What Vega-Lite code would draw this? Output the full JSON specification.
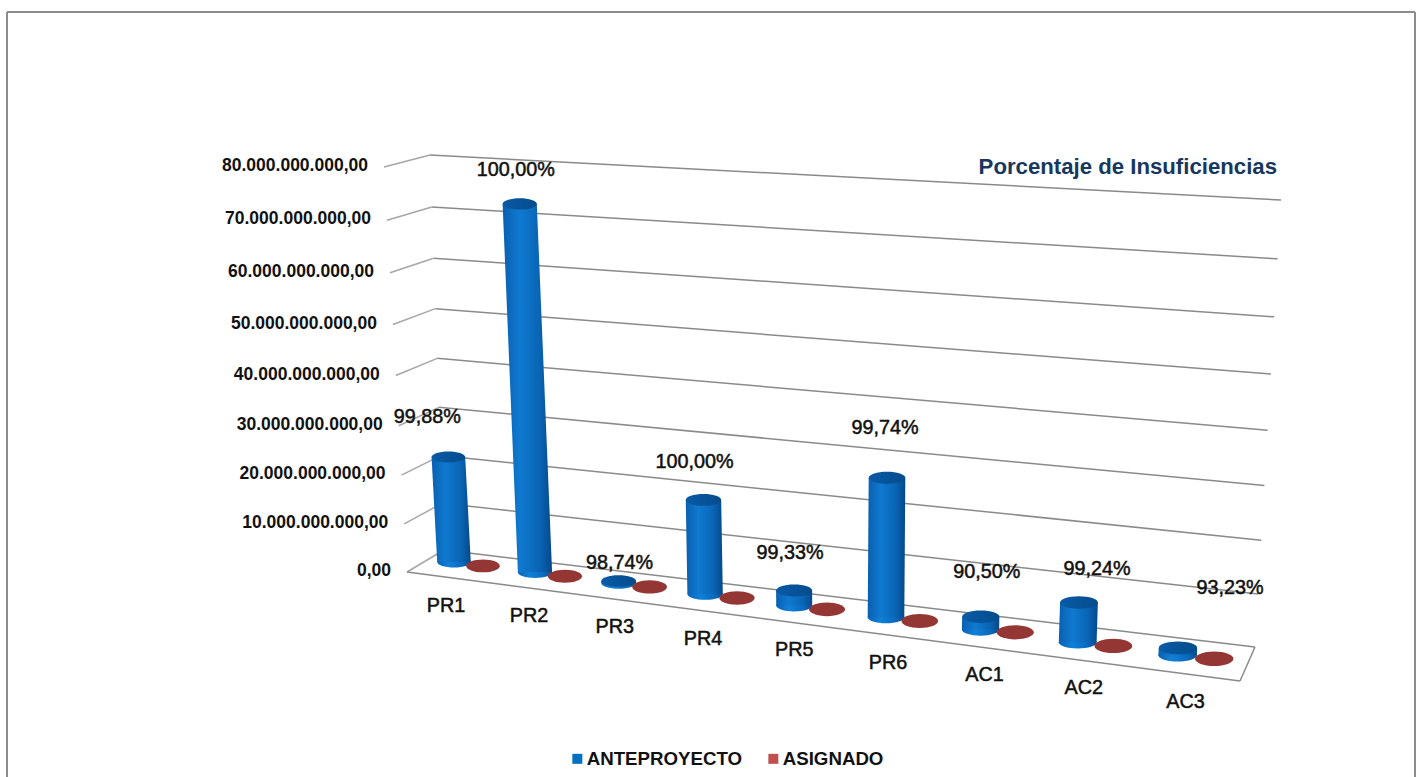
{
  "$schema": "https://vega.github.io/schema/vega-lite/v6.json",
  "width": 1422,
  "height": 777,
  "padding": 0,
  "autosize": "none",
  "background": "white",
  "view": {"stroke": null},
  "title": {
    "text": "Porcentaje de Insuficiencias",
    "orient": "top",
    "anchor": "end",
    "offset": -178,
    "dx": -145,
    "font": "Liberation Sans",
    "fontSize": 22.2,
    "fontWeight": "bold",
    "color": "#17375e"
  },
  "datasets": {
    "escala": [
      {"valor": 0, "etiqueta": "0,00"},
      {"valor": 10000000000, "etiqueta": "10.000.000.000,00"},
      {"valor": 20000000000, "etiqueta": "20.000.000.000,00"},
      {"valor": 30000000000, "etiqueta": "30.000.000.000,00"},
      {"valor": 40000000000, "etiqueta": "40.000.000.000,00"},
      {"valor": 50000000000, "etiqueta": "50.000.000.000,00"},
      {"valor": 60000000000, "etiqueta": "60.000.000.000,00"},
      {"valor": 70000000000, "etiqueta": "70.000.000.000,00"},
      {"valor": 80000000000, "etiqueta": "80.000.000.000,00"}
    ],
    "presupuesto": [
      {"categoria": "PR1", "serie": "ANTEPROYECTO", "valor": 21900000000, "porcentaje": "99,88%"},
      {"categoria": "PR2", "serie": "ANTEPROYECTO", "valor": 73000000000, "porcentaje": "100,00%"},
      {"categoria": "PR3", "serie": "ANTEPROYECTO", "valor": 420000000, "porcentaje": "98,74%"},
      {"categoria": "PR4", "serie": "ANTEPROYECTO", "valor": 18900000000, "porcentaje": "100,00%"},
      {"categoria": "PR5", "serie": "ANTEPROYECTO", "valor": 3000000000, "porcentaje": "99,33%"},
      {"categoria": "PR6", "serie": "ANTEPROYECTO", "valor": 27100000000, "porcentaje": "99,74%"},
      {"categoria": "AC1", "serie": "ANTEPROYECTO", "valor": 2500000000, "porcentaje": "90,50%"},
      {"categoria": "AC2", "serie": "ANTEPROYECTO", "valor": 7600000000, "porcentaje": "99,24%"},
      {"categoria": "AC3", "serie": "ANTEPROYECTO", "valor": 1400000000, "porcentaje": "93,23%"},
      {"categoria": "PR1", "serie": "ASIGNADO", "valor": 26280000},
      {"categoria": "PR2", "serie": "ASIGNADO", "valor": 0},
      {"categoria": "PR3", "serie": "ASIGNADO", "valor": 5292000},
      {"categoria": "PR4", "serie": "ASIGNADO", "valor": 0},
      {"categoria": "PR5", "serie": "ASIGNADO", "valor": 20100000},
      {"categoria": "PR6", "serie": "ASIGNADO", "valor": 70460000},
      {"categoria": "AC1", "serie": "ASIGNADO", "valor": 237500000},
      {"categoria": "AC2", "serie": "ASIGNADO", "valor": 57760000},
      {"categoria": "AC3", "serie": "ASIGNADO", "valor": 94780000}
    ]
  },
  "layer": [
    {
      "data": {"values": [{"borde": "marco"}]},
      "mark": {"type": "rule", "stroke": "#8c8c8c", "strokeWidth": 2},
      "encoding": {
        "x": {"datum": 7, "type": "quantitative", "scale": {"domain": [0, 1422], "range": [0, 1422]}, "axis": null},
        "y": {"datum": 12, "type": "quantitative", "scale": {"domain": [0, 777], "range": [0, 777]}, "axis": null},
        "y2": {"datum": 777}
      }
    },
    {
      "data": {"values": [{"borde": "marco"}]},
      "mark": {"type": "rule", "stroke": "#8c8c8c", "strokeWidth": 2},
      "encoding": {
        "x": {"datum": 1415, "type": "quantitative", "scale": {"domain": [0, 1422], "range": [0, 1422]}, "axis": null},
        "y": {"datum": 12, "type": "quantitative", "scale": {"domain": [0, 777], "range": [0, 777]}, "axis": null},
        "y2": {"datum": 777}
      }
    },
    {
      "data": {"values": [{"borde": "marco"}]},
      "mark": {"type": "rule", "stroke": "#8c8c8c", "strokeWidth": 2},
      "encoding": {
        "x": {"datum": 7, "type": "quantitative", "scale": {"domain": [0, 1422], "range": [0, 1422]}, "axis": null},
        "x2": {"datum": 1415},
        "y": {"datum": 12, "type": "quantitative", "scale": {"domain": [0, 777], "range": [0, 777]}, "axis": null}
      }
    },
    {
      "data": {"name": "escala"},
      "transform": [
        {"calculate": "datum.valor/1e10", "as": "n"},
        {"calculate": "datum.n/(1-0.0072*datum.n)/8.489", "as": "w"},
        {"calculate": "444-14*datum.w", "as": "fondoIzqX"},
        {"calculate": "550-395*datum.w", "as": "fondoIzqY"},
        {"calculate": "1255+26*datum.w", "as": "fondoDerX"},
        {"calculate": "647-447*datum.w", "as": "fondoDerY"},
        {"calculate": "407-23*datum.w", "as": "frenteIzqX"},
        {"calculate": "572-405*datum.w", "as": "frenteIzqY"},
        {"calculate": "datum.frenteIzqX-16", "as": "textoX"},
        {"calculate": "datum.frenteIzqY-1", "as": "textoY"}
      ],
      "layer": [
        {
          "mark": {"type": "rule", "stroke": "#8a8a8a", "strokeWidth": 1.5},
          "encoding": {
            "x": {"field": "fondoIzqX", "type": "quantitative", "scale": {"domain": [0, 1422], "range": [0, 1422]}, "axis": null},
            "x2": {"field": "fondoDerX"},
            "y": {"field": "fondoIzqY", "type": "quantitative", "scale": {"domain": [0, 777], "range": [0, 777]}, "axis": null},
            "y2": {"field": "fondoDerY"}
          }
        },
        {
          "mark": {"type": "rule", "stroke": "#a6a6a6", "strokeWidth": 1.5},
          "encoding": {
            "x": {"field": "frenteIzqX", "type": "quantitative", "scale": {"domain": [0, 1422], "range": [0, 1422]}, "axis": null},
            "x2": {"field": "fondoIzqX"},
            "y": {"field": "frenteIzqY", "type": "quantitative", "scale": {"domain": [0, 777], "range": [0, 777]}, "axis": null},
            "y2": {"field": "fondoIzqY"}
          }
        },
        {
          "transform": [
            {"filter": "datum.valor==0"},
            {"calculate": "1240", "as": "frenteDerX"},
            {"calculate": "681", "as": "frenteDerY"}
          ],
          "layer": [
            {
              "mark": {"type": "rule", "stroke": "#8a8a8a", "strokeWidth": 1.5},
              "encoding": {
                "x": {"field": "frenteIzqX", "type": "quantitative", "scale": {"domain": [0, 1422], "range": [0, 1422]}, "axis": null},
                "x2": {"field": "frenteDerX"},
                "y": {"field": "frenteIzqY", "type": "quantitative", "scale": {"domain": [0, 777], "range": [0, 777]}, "axis": null},
                "y2": {"field": "frenteDerY"}
              }
            },
            {
              "mark": {"type": "rule", "stroke": "#8a8a8a", "strokeWidth": 1.5},
              "encoding": {
                "x": {"field": "frenteDerX", "type": "quantitative", "scale": {"domain": [0, 1422], "range": [0, 1422]}, "axis": null},
                "x2": {"field": "fondoDerX"},
                "y": {"field": "frenteDerY", "type": "quantitative", "scale": {"domain": [0, 777], "range": [0, 777]}, "axis": null},
                "y2": {"field": "fondoDerY"}
              }
            }
          ]
        },
        {
          "mark": {"type": "text", "align": "right", "baseline": "middle", "font": "Liberation Sans", "fontSize": 17.5, "fontWeight": "bold", "fill": "#111111"},
          "encoding": {
            "x": {"field": "textoX", "type": "quantitative", "scale": {"domain": [0, 1422], "range": [0, 1422]}, "axis": null},
            "y": {"field": "textoY", "type": "quantitative", "scale": {"domain": [0, 777], "range": [0, 777]}, "axis": null},
            "text": {"field": "etiqueta"}
          }
        }
      ]
    },
    {
      "data": {"name": "presupuesto"},
      "transform": [
        {"calculate": "indexof(['PR1','PR2','PR3','PR4','PR5','PR6','AC1','AC2','AC3'],datum.categoria)", "as": "i"},
        {"calculate": "datum.serie=='ASIGNADO'?1:0", "as": "k"},
        {"calculate": "454+79.65*datum.i+1.35*datum.i*datum.i+datum.k*(29+0.95*datum.i)", "as": "baseX"},
        {"calculate": "562+10.06*datum.i+0.2*datum.i*datum.i+datum.k*4", "as": "baseY"},
        {"calculate": "16.8+0.3*datum.i", "as": "radio"},
        {"calculate": "4*datum.radio*datum.radio", "as": "area"},
        {"calculate": "datum.valor/1e10", "as": "n"},
        {"calculate": "datum.n/(1-0.0072*datum.n)/8.489", "as": "w"},
        {"calculate": "(datum.baseX-444)/811", "as": "t"},
        {"calculate": "datum.baseX+datum.w*(-22+46*datum.t)", "as": "topeX"},
        {"calculate": "datum.baseY-datum.w*(400+52*datum.t)", "as": "topeY"}
      ],
      "layer": [
        {
          "mark": {"type": "point", "shape": "square", "filled": true, "opacity": 0},
          "encoding": {
            "x": {"field": "baseX", "type": "quantitative", "scale": {"domain": [0, 1422], "range": [0, 1422]}, "axis": null},
            "y": {"field": "baseY", "type": "quantitative", "scale": {"domain": [0, 777], "range": [0, 777]}, "axis": null},
            "color": {
              "field": "serie",
              "type": "nominal",
              "scale": {"domain": ["ANTEPROYECTO", "ASIGNADO"], "range": ["#0070c0", "#c0504d"]},
              "legend": {
                "title": null,
                "orient": "none",
                "legendX": 568,
                "legendY": 749,
                "direction": "horizontal",
                "symbolType": "square",
                "symbolSize": 100,
                "symbolOpacity": 1,
                "labelFont": "Liberation Sans",
                "labelFontSize": 18.7,
                "labelFontWeight": "bold",
                "labelColor": "#111111",
                "labelOffset": 0,
                "columnPadding": 21
              }
            }
          }
        },
        {
          "transform": [{"filter": "datum.serie=='ANTEPROYECTO'"}],
          "layer": [
            {
              "mark": {
                "type": "point",
                "shape": "M-1,0A1,0.33,0,1,1,1,0A1,0.33,0,1,1,-1,0Z",
                "filled": true,
                "opacity": 1,
                "fill": {"x1": 0, "y1": 0, "x2": 1, "y2": 0, "gradient": "linear", "stops": [
                  {"offset": 0, "color": "#0a63b6"},
                  {"offset": 0.35, "color": "#1080d8"},
                  {"offset": 0.75, "color": "#0a6abf"},
                  {"offset": 1, "color": "#054f94"}
                ]},
                "strokeWidth": 0
              },
              "encoding": {
                "x": {"field": "baseX", "type": "quantitative", "scale": {"domain": [0, 1422], "range": [0, 1422]}, "axis": null},
                "y": {"field": "baseY", "type": "quantitative", "scale": {"domain": [0, 777], "range": [0, 777]}, "axis": null},
                "size": {"field": "area", "type": "quantitative", "scale": null}
              }
            },
            {
              "transform": [
                {"fold": ["baseY", "topeY"], "as": ["extremo", "altura"]},
                {"calculate": "datum.extremo=='baseY'?datum.baseX:datum.topeX", "as": "centro"},
                {"calculate": "datum.centro-datum.radio", "as": "izq"},
                {"calculate": "datum.centro+datum.radio", "as": "der"}
              ],
              "mark": {
                "type": "area",
                "orient": "horizontal",
                "fill": {"x1": 0, "y1": 0, "x2": 1, "y2": 0, "gradient": "linear", "stops": [
                  {"offset": 0, "color": "#0a5fb0"},
                  {"offset": 0.35, "color": "#0f7ad0"},
                  {"offset": 0.75, "color": "#0a64b4"},
                  {"offset": 1, "color": "#04498a"}
                ]}
              },
              "encoding": {
                "y": {"field": "altura", "type": "quantitative", "scale": {"domain": [0, 777], "range": [0, 777]}, "axis": null},
                "x": {"field": "izq", "type": "quantitative", "scale": {"domain": [0, 1422], "range": [0, 1422]}, "axis": null},
                "x2": {"field": "der"},
                "detail": {"field": "categoria"}
              }
            },
            {
              "mark": {
                "type": "point",
                "shape": "M-1,0A1,0.33,0,1,1,1,0A1,0.33,0,1,1,-1,0Z",
                "filled": true,
                "opacity": 1,
                "fill": {"x1": 0, "y1": 0, "x2": 1, "y2": 0, "gradient": "linear", "stops": [
                  {"offset": 0, "color": "#0a5aa6"},
                  {"offset": 1, "color": "#044c8c"}
                ]},
                "strokeWidth": 0
              },
              "encoding": {
                "x": {"field": "topeX", "type": "quantitative", "scale": {"domain": [0, 1422], "range": [0, 1422]}, "axis": null},
                "y": {"field": "topeY", "type": "quantitative", "scale": {"domain": [0, 777], "range": [0, 777]}, "axis": null},
                "size": {"field": "area", "type": "quantitative", "scale": null}
              }
            },
            {
              "transform": [
                {"calculate": "datum.topeX+({PR1:-21,PR2:-4,PR3:1,PR4:-9,PR5:-4,PR6:-2,AC1:6,AC2:18,AC3:52})[datum.categoria]", "as": "rotuloX"},
                {"calculate": "datum.topeY+({PR1:-40,PR2:-34,PR3:-18,PR4:-38,PR5:-37,PR6:-50,AC1:-45,AC2:-34,AC3:-60})[datum.categoria]", "as": "rotuloY"}
              ],
              "mark": {"type": "text", "align": "center", "baseline": "middle", "font": "Liberation Sans", "fontSize": 19.8, "fill": "#111111", "stroke": "#111111", "strokeWidth": 0.5},
              "encoding": {
                "x": {"field": "rotuloX", "type": "quantitative", "scale": {"domain": [0, 1422], "range": [0, 1422]}, "axis": null},
                "y": {"field": "rotuloY", "type": "quantitative", "scale": {"domain": [0, 777], "range": [0, 777]}, "axis": null},
                "text": {"field": "porcentaje"}
              }
            },
            {
              "transform": [
                {"calculate": "datum.baseX-8+2*datum.i", "as": "nombreX"},
                {"calculate": "datum.baseY+43.5+0.35*datum.i", "as": "nombreY"}
              ],
              "mark": {"type": "text", "align": "center", "baseline": "middle", "font": "Liberation Sans", "fontSize": 19.8, "fill": "#111111", "stroke": "#111111", "strokeWidth": 0.5},
              "encoding": {
                "x": {"field": "nombreX", "type": "quantitative", "scale": {"domain": [0, 1422], "range": [0, 1422]}, "axis": null},
                "y": {"field": "nombreY", "type": "quantitative", "scale": {"domain": [0, 777], "range": [0, 777]}, "axis": null},
                "text": {"field": "categoria"}
              }
            }
          ]
        },
        {
          "transform": [{"filter": "datum.serie=='ASIGNADO'"}],
          "mark": {
            "type": "point",
            "shape": "M-1,0A1,0.38,0,1,1,1,0A1,0.38,0,1,1,-1,0Z",
            "filled": true,
            "opacity": 1,
            "fill": "#943634",
            "strokeWidth": 0
          },
          "encoding": {
            "x": {"field": "topeX", "type": "quantitative", "scale": {"domain": [0, 1422], "range": [0, 1422]}, "axis": null},
            "y": {"field": "topeY", "type": "quantitative", "scale": {"domain": [0, 777], "range": [0, 777]}, "axis": null},
            "size": {"field": "area", "type": "quantitative", "scale": null}
          }
        }
      ]
    }
  ]
}
